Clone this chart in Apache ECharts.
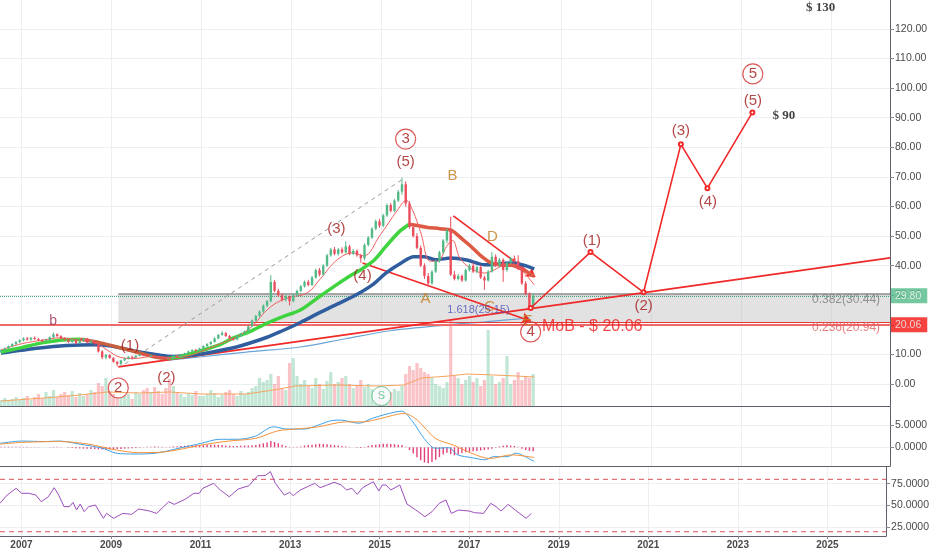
<!DOCTYPE html>
<html><head><meta charset="utf-8">
<script src="https://cdn.jsdelivr.net/npm/echarts@6/dist/echarts.min.js"></script>
<style>html,body{margin:0;padding:0;background:#fff}#c{width:932px;height:550px}</style>
</head><body><div id="c"></div>
<script>
// ---------- DATA ----------
const yearTicks = [2007, 2009, 2011, 2013, 2015, 2017, 2019, 2021, 2023, 2025];
const priceTicks = [0, 10, 20, 30, 40, 50, 60, 70, 80, 90, 100, 110, 120];
const macdTicks = [0, 5];
const rsiTicks = [25, 50, 75];

// monthly candles: date, open, high, low, close
const candles = [
['2006-07',11.0,11.8,10.6,11.5],['2006-08',11.5,12.3,11.1,12.0],['2006-09',12.0,13.0,11.7,12.8],['2006-10',12.8,13.8,12.4,13.5],['2006-11',13.5,14.5,13.1,14.2],['2006-12',14.2,15.1,13.8,14.8],
['2007-01',14.8,15.8,14.4,15.4],['2007-02',15.4,15.9,14.6,15.0],['2007-03',15.0,15.9,14.6,15.6],['2007-04',15.6,16.1,14.9,15.2],['2007-05',15.2,15.6,14.5,14.8],['2007-06',14.8,15.2,14.1,14.5],
['2007-07',14.5,15.3,14.2,14.9],['2007-08',14.9,16.1,14.4,15.8],['2007-09',15.8,17.4,15.5,16.8],['2007-10',16.8,17.1,15.9,16.2],['2007-11',16.2,16.5,15.0,15.4],['2007-12',15.4,15.8,14.6,15.0],
['2008-01',15.0,15.3,13.8,14.2],['2008-02',14.2,15.1,13.9,14.8],['2008-03',14.8,15.2,13.4,13.8],['2008-04',13.8,14.9,13.5,14.6],['2008-05',14.6,15.7,14.3,15.3],['2008-06',15.3,15.6,13.7,14.0],
['2008-07',14.0,14.9,13.5,14.5],['2008-08',14.5,14.8,13.2,13.6],['2008-09',13.6,14.0,10.6,11.0],['2008-10',11.0,11.4,8.4,9.0],['2008-11',9.0,10.2,8.3,9.8],['2008-12',9.8,10.1,8.5,8.8],
['2009-01',8.8,9.1,7.2,7.5],['2009-02',7.5,7.8,6.0,6.8],['2009-03',6.8,8.2,6.3,8.0],['2009-04',8.0,8.9,7.7,8.6],['2009-05',8.6,9.4,8.3,9.2],['2009-06',9.2,9.6,8.7,9.0],
['2009-07',9.0,9.8,8.8,9.6],['2009-08',9.6,10.2,9.3,9.9],['2009-09',9.9,10.3,9.4,9.7],['2009-10',9.7,10.0,9.1,9.4],['2009-11',9.4,9.9,9.1,9.6],['2009-12',9.6,9.9,9.0,9.3],
['2010-01',9.3,9.6,8.8,9.0],['2010-02',9.0,9.3,8.5,8.8],['2010-03',8.8,9.2,8.4,8.6],['2010-04',8.6,8.9,8.0,8.4],['2010-05',8.4,9.9,8.2,9.6],['2010-06',9.6,9.8,8.9,9.2],
['2010-07',9.2,10.2,9.0,10.0],['2010-08',10.0,10.6,9.7,10.4],['2010-09',10.4,11.3,10.1,11.0],['2010-10',11.0,11.8,10.8,11.5],['2010-11',11.5,11.9,10.9,11.2],['2010-12',11.2,12.3,11.0,12.0],
['2011-01',12.0,13.1,11.7,12.8],['2011-02',12.8,13.8,12.5,13.5],['2011-03',13.5,14.5,13.1,14.2],['2011-04',14.2,15.8,14.0,15.4],['2011-05',15.4,16.9,15.1,16.6],['2011-06',16.6,17.9,16.3,17.2],
['2011-07',17.2,17.6,15.9,16.2],['2011-08',16.2,16.6,15.0,15.4],['2011-09',15.4,15.8,14.6,15.0],['2011-10',15.0,16.5,14.8,16.2],['2011-11',16.2,17.3,15.9,17.0],['2011-12',17.0,18.1,16.7,17.8],
['2012-01',17.8,19.8,17.5,19.5],['2012-02',19.5,21.8,19.2,21.5],['2012-03',21.5,23.4,21.0,23.0],['2012-04',23.0,24.9,22.5,24.5],['2012-05',24.5,26.9,24.0,26.5],['2012-06',26.5,28.4,26.0,28.0],
['2012-07',28.0,36.8,27.6,34.5],['2012-08',34.5,35.2,31.0,31.5],['2012-09',31.5,32.2,29.4,30.0],['2012-10',30.0,30.6,27.9,28.5],['2012-11',28.5,30.1,27.8,29.5],['2012-12',29.5,29.9,26.6,28.0],
['2013-01',28.0,30.4,27.6,30.0],['2013-02',30.0,31.9,29.5,31.5],['2013-03',31.5,33.5,31.0,33.0],['2013-04',33.0,35.0,32.6,34.5],['2013-05',34.5,35.2,33.0,33.5],['2013-06',33.5,36.5,33.1,36.0],
['2013-07',36.0,39.0,35.6,38.5],['2013-08',38.5,39.2,36.4,37.0],['2013-09',37.0,40.5,36.7,40.0],['2013-10',40.0,44.0,39.6,43.5],['2013-11',43.5,46.0,43.0,45.5],['2013-12',45.5,46.3,43.5,44.0],
['2014-01',44.0,46.0,43.4,45.5],['2014-02',45.5,46.2,44.0,44.5],['2014-03',44.5,48.2,44.1,46.5],['2014-04',46.5,47.0,43.5,44.0],['2014-05',44.0,45.6,43.6,45.0],['2014-06',45.0,45.5,43.0,43.5],
['2014-07',43.5,44.0,41.0,42.5],['2014-08',42.5,47.5,41.8,47.0],['2014-09',47.0,50.0,46.5,49.5],['2014-10',49.5,53.0,49.0,52.5],['2014-11',52.5,55.6,52.0,55.0],['2014-12',55.0,55.8,52.8,53.5],
['2015-01',53.5,57.5,53.0,57.0],['2015-02',57.0,61.0,56.5,60.5],['2015-03',60.5,61.2,58.0,58.5],['2015-04',58.5,62.5,58.0,62.0],['2015-05',62.0,65.6,61.5,65.0],['2015-06',65.0,69.8,64.0,67.5],
['2015-07',67.5,68.5,60.0,61.0],['2015-08',61.0,61.8,52.5,53.0],['2015-09',53.0,54.0,49.5,50.0],['2015-10',50.0,51.0,45.5,46.0],['2015-11',46.0,46.8,39.5,40.0],['2015-12',40.0,40.8,35.5,36.5],
['2016-01',36.5,37.5,32.8,34.0],['2016-02',34.0,38.5,33.5,38.0],['2016-03',38.0,42.0,37.5,41.5],['2016-04',41.5,45.0,41.0,44.5],['2016-05',44.5,49.0,44.0,48.5],['2016-06',48.5,52.5,47.5,52.0],
['2016-07',52.0,56.5,36.5,37.0],['2016-08',37.0,38.2,35.0,35.5],['2016-09',35.5,37.2,35.0,36.5],['2016-10',36.5,37.0,34.5,35.0],['2016-11',35.0,39.0,34.6,38.5],['2016-12',38.5,40.6,38.0,40.0],
['2017-01',40.0,41.0,37.5,38.0],['2017-02',38.0,40.0,37.4,39.5],['2017-03',39.5,40.2,35.5,36.0],['2017-04',36.0,36.6,31.8,35.0],['2017-05',35.0,38.5,34.6,38.0],['2017-06',38.0,44.6,37.6,43.0],
['2017-07',43.0,43.8,39.5,40.0],['2017-08',40.0,42.6,39.4,42.0],['2017-09',42.0,42.5,34.5,38.5],['2017-10',38.5,41.5,38.0,41.0],['2017-11',41.0,43.0,40.5,42.5],['2017-12',42.5,43.4,41.0,41.5],
['2018-01',41.5,43.5,38.5,39.0],['2018-02',39.0,39.8,33.5,34.0],['2018-03',34.0,34.8,30.0,30.5],['2018-04',30.5,31.0,25.2,25.8],['2018-05',25.8,30.6,25.5,29.8]
];

const volume = [
6,8,5,7,9,6,
8,10,6,9,12,8,14,10,16,9,12,14,
11,15,9,13,10,12,16,14,23,20,28,15,
12,9,8,10,12,7,14,12,16,18,13,19,
15,12,18,27,20,14,12,9,13,11,15,10,
10,12,16,13,9,11,14,16,12,10,15,12,
14,18,20,28,24,26,32,22,30,18,16,43,
48,30,22,26,20,18,28,22,17,25,34,22,
24,28,30,22,18,20,26,19,22,17,15,20,
18,16,14,17,15,20,32,40,36,43,38,34,
32,28,22,20,18,24,86,30,28,22,26,30,
24,28,20,26,76,30,22,24,28,50,22,26,
34,26,30,28,32
];

const macdHist = [
0.1,0.1,0.15,0.15,0.1,0.1,
0.1,0.1,0.05,0.05,0.05,0,0,0.05,0.1,0.1,0.05,0,
-0.1,-0.15,-0.2,-0.25,-0.3,-0.3,-0.35,-0.4,-0.45,-0.5,-0.55,-0.5,
-0.45,-0.4,-0.35,-0.3,-0.25,-0.2,-0.15,-0.1,0.05,0.1,0.15,0.2,
0.15,0.1,0.05,0.1,0.2,0.25,0.3,0.35,0.4,0.4,0.45,0.5,
0.5,0.55,0.6,0.6,0.55,0.5,0.4,0.35,0.3,0.3,0.35,0.4,
0.4,0.45,0.5,0.7,0.9,1.1,1.4,1.2,0.9,0.6,0.3,0.1,
0.05,0.1,0.2,0.4,0.5,0.6,0.7,0.8,0.75,0.7,0.6,0.5,
0.4,0.3,0.2,0.1,0,-0.1,-0.15,0.1,0.3,0.5,0.6,0.7,
0.8,0.8,0.75,0.7,0.6,0.5,0.1,-0.6,-1.4,-2.2,-2.9,-3.4,
-3.6,-3.3,-2.8,-2.2,-1.6,-1.2,-1.5,-1.8,-1.6,-1.3,-1.1,-1.0,
-0.9,-0.8,-0.7,-0.6,-0.5,-0.3,-0.1,0.2,0.35,0.45,0.4,0.3,
0.1,-0.3,-0.6,-0.8,-0.9
];

const maFast = [[2006.54,11.5],[2007.0,13.6],[2007.5,14.9],[2007.85,15.6],[2008.3,14.8],[2008.6,14.4],[2008.9,11.5],[2009.2,9.0],[2009.5,8.6],[2009.9,9.3],[2010.3,8.9],[2010.7,9.6],[2011.0,11.0],[2011.4,13.5],[2011.7,15.3],[2012.08,18.9],[2012.53,26.0],[2012.9,29.0],[2013.35,30.8],[2013.64,35.5],[2014.02,42.0],[2014.38,44.3],[2014.6,43.3],[2014.98,50.5],[2015.36,58.8],[2015.55,62.0],[2015.7,58.5],[2015.87,51.5],[2016.09,41.5],[2016.25,41.5],[2016.45,46.5],[2016.58,48.5],[2016.75,42.5],[2017.0,39.0],[2017.3,37.5],[2017.5,38.5],[2017.7,40.0],[2017.95,40.5],[2018.15,38.0],[2018.4,33.5]];

const maMid = [[2006.54,10.8],[2007.0,12.3],[2007.45,13.9],[2007.9,14.9],[2008.3,15.1],[2008.75,13.9],[2009.2,12.2],[2009.65,10.4],[2010.0,9.0],[2010.25,8.6],[2010.55,9.3],[2011.0,11.3],[2011.4,13.2],[2011.7,15.5],[2012.05,17.5],[2012.45,20.5],[2012.85,23.0],[2013.2,25.0],[2013.6,29.3],[2013.95,33.0],[2014.3,36.5],[2014.55,38.7],[2014.85,42.0],[2015.1,46.5],[2015.4,51.5],[2015.62,54.0],[2015.8,53.6],[2016.0,53.0],[2016.3,52.5],[2016.55,52.0],[2016.8,49.0],[2017.0,46.4],[2017.2,43.5],[2017.43,41.0],[2017.65,40.2],[2017.9,40.1],[2018.1,39.0],[2018.25,37.8],[2018.4,36.3]];
const maMidTurns = [2008.3, 2010.25, 2015.62];

const maSlow = [[2006.54,10.5],[2007.4,12.2],[2008.0,13.0],[2008.6,13.3],[2009.0,12.8],[2009.5,11.2],[2010.05,9.8],[2010.35,9.3],[2010.8,9.8],[2011.3,11.0],[2011.8,12.6],[2012.46,15.8],[2012.8,18.0],[2013.2,20.8],[2013.65,24.3],[2013.95,26.5],[2014.4,29.8],[2014.8,33.5],[2015.1,37.5],[2015.45,41.0],[2015.72,43.0],[2015.95,43.0],[2016.2,42.0],[2016.55,42.6],[2016.9,41.9],[2017.3,40.3],[2017.9,40.9],[2018.2,40.0],[2018.4,38.9]];

const maLong = [[2010.2,8.0],[2011.0,9.2],[2012.0,10.8],[2013.2,12.5],[2014.2,15.3],[2015.2,18.0],[2016.5,20.0],[2017.3,21.0],[2018.3,22.3]];

const volMA = [[2006.54,5],[2007.5,8],[2008.3,11],[2008.9,14],[2009.6,13],[2010.3,14],[2011.0,12],[2012.0,12],[2012.6,16],[2013.1,20],[2014.0,21],[2014.9,20],[2015.5,21],[2015.9,28],[2016.5,30],[2016.9,32],[2017.5,31],[2018.0,30],[2018.4,29]];

const macdLine = [[2006.52,0.9],[2007.0,1.4],[2007.5,1.3],[2007.85,1.4],[2008.3,0.7],[2008.8,-0.2],[2009.1,-1.3],[2009.5,-1.5],[2010.0,-1.3],[2010.5,-0.2],[2011.0,0.9],[2011.4,1.8],[2011.8,1.8],[2012.2,2.5],[2012.6,4.6],[2012.9,4.1],[2013.3,4.1],[2013.6,5.0],[2013.9,6.0],[2014.1,6.1],[2014.5,5.4],[2014.8,6.5],[2015.1,7.4],[2015.45,8.1],[2015.7,5.7],[2015.95,2.0],[2016.2,-0.2],[2016.5,-0.1],[2016.7,-1.7],[2017.0,-2.3],[2017.3,-2.8],[2017.5,-2.1],[2017.8,-2.1],[2018.0,-1.3],[2018.2,-2.1],[2018.4,-3.2]];
const signalLine = [[2006.52,0.7],[2007.0,1.1],[2007.85,1.3],[2008.5,0.7],[2009.1,-0.6],[2009.6,-1.2],[2010.2,-1.0],[2011.0,0.5],[2011.6,1.4],[2012.2,2.0],[2012.7,3.7],[2013.1,4.1],[2013.6,4.6],[2014.2,5.7],[2014.6,5.7],[2015.0,6.5],[2015.5,7.6],[2015.8,6.1],[2016.2,2.0],[2016.6,0.5],[2017.0,-1.3],[2017.4,-2.5],[2017.9,-1.7],[2018.4,-2.3]];

const rsiLine = [[2006.52,52.5],[2006.68,62],[2006.88,69.7],[2007.0,64],[2007.16,64],[2007.32,62],[2007.44,54.4],[2007.6,60],[2007.73,70.4],[2007.83,62],[2007.95,48.7],[2008.07,48.7],[2008.15,53.6],[2008.23,44.8],[2008.31,51.7],[2008.4,43],[2008.5,48.7],[2008.65,50.6],[2008.83,35.3],[2008.9,41],[2009.06,35.3],[2009.26,41],[2009.46,39.9],[2009.62,46],[2009.86,43.7],[2010.02,41],[2010.29,54.4],[2010.41,51.3],[2010.65,57],[2010.85,64],[2010.97,64],[2011.05,69.7],[2011.29,75.4],[2011.44,67.8],[2011.64,60],[2011.84,68.9],[2012.08,72.7],[2012.28,84.2],[2012.44,84.2],[2012.56,88.8],[2012.67,75.4],[2012.87,62],[2012.99,65.1],[2013.07,61.3],[2013.23,67.8],[2013.39,71.6],[2013.55,75.4],[2013.67,70.4],[2013.83,73.5],[2013.98,76.6],[2014.14,73.5],[2014.26,67.8],[2014.38,69.7],[2014.5,62.8],[2014.62,70.4],[2014.86,77.3],[2014.9,78],[2014.98,66.6],[2015.06,73.5],[2015.14,73.5],[2015.25,67.8],[2015.45,73.5],[2015.61,51.7],[2015.81,44.8],[2016.01,37.2],[2016.17,43],[2016.33,52.5],[2016.48,56.3],[2016.6,41],[2016.76,44.8],[2017.0,43.7],[2017.12,41.8],[2017.32,41],[2017.48,52.5],[2017.6,48.7],[2017.71,43.7],[2017.87,51.3],[2018.03,44.8],[2018.27,35.3],[2018.39,41]];
const rsiBands = [80, 20];

const projection = [[2018.32,25.7],[2019.65,44.6],[2020.83,31.0],[2021.66,81.0],[2022.25,66.2],[2023.25,91.8]];
const trendLine = [[2009.15,5.8],[2026.31,42.6]];
const dashedLine = [[2009.3,6.8],[2015.5,69.5]];
const waveFourToE = [[2014.58,40.9],[2018.32,21.3]];
const lineBtoD = [[2016.6,56.8],[2018.42,36.2]];
const fibBox = {start: 2009.15, top: 30.44, bottom: 20.94};
const mobLevel = 20.06;
const lastPrice = 29.80;

const parenLabels = [['(1)',2009.41,12.8],['(2)',2010.22,2.0],['(3)',2014.0,52.4],['(4)',2014.58,36.5],['(5)',2015.54,75.0],['(1)',2019.68,48.3],['(2)',2020.83,26.4],['(3)',2021.66,85.5],['(4)',2022.26,61.5],['(5)',2023.26,95.7]];
const circledLabels = [['2',2009.15,-1.35],['3',2015.54,82.8],['4',2018.32,17.6],['5',2023.26,104.8]];
const letterLabels = [['A',2015.98,28.7],['B',2016.58,70.3],['C',2017.41,26.0],['D',2017.47,49.7],['E',2018.25,21.3]];
const smallB = ['b',2007.70,21.3];
const targetLabels = [['$ 90',2023.95,90.6],['$ 130',2024.77,127.1]];
const fibLabels = [['0.382(30.44)',2026.1,28.4,'#7a7a7a'],['0.236(20.94)',2026.1,19.0,'#e25c5c']];

// ---------- CHART ----------
const xMin = 2006.52, xMax = 2026.31;
const FONT = 'Arial, "Liberation Sans", sans-serif';
const GREEN = '#53b987', RED = '#eb4d5c';
const toYear = d => { const p = d.split('-').map(Number); return p[0] + (p[1] - 0.5) / 12; };
const candleData = candles.map(r => [toYear(r[0]), r[1], r[2], r[3], r[4]]);
const volData = candles.map((r, i) => ({ value: [toYear(r[0]), volume[i]], itemStyle: { color: r[4] >= r[1] ? 'rgba(83,185,135,0.36)' : 'rgba(240,90,100,0.36)' } }));
const histData = candles.map((r, i) => [toYear(r[0]), macdHist[i]]);

const seg = (a, b) => maMid.filter(p => p[0] >= a && p[0] <= b);

const xAxisFor = (gi, show) => ({
  type: 'value', gridIndex: gi, min: xMin, max: xMax,
  axisLine: { show: true, onZero: false, lineStyle: { color: '#5d606b', width: 1 } },
  axisTick: { show: show, customValues: yearTicks, length: 3, lineStyle: { color: '#888' } },
  axisLabel: { show: show, customValues: yearTicks, formatter: v => String(v), color: '#4a4a4a', fontSize: 10, fontWeight: 'bold', margin: 4, fontFamily: FONT },
  splitLine: { show: true, lineStyle: { color: '#eceff2', width: 1 } }
});
const yAxisFor = (gi, min, max, ticks, dec) => ({
  type: 'value', gridIndex: gi, position: 'right', min: min, max: max,
  axisLine: { show: true, lineStyle: { color: '#5d606b' } },
  axisTick: { show: true, customValues: ticks, length: 4, lineStyle: { color: '#888' } },
  axisLabel: { customValues: ticks, formatter: v => v.toFixed(dec), color: '#4a4a4a', fontSize: 10.5, margin: 5, fontFamily: FONT },
  splitLine: { show: true, lineStyle: { color: '#eceff2' } }
});

const textSeries = (items, style) => ({
  type: 'scatter', xAxisIndex: 0, yAxisIndex: 0, z: 20, silent: true, animation: false,
  symbol: 'circle', symbolSize: 1, itemStyle: { color: 'rgba(0,0,0,0)' },
  data: items.map(t => ({ value: [t[1], t[2]], name: t[0], label: t[3] ? { color: t[3] } : undefined })),
  label: Object.assign({ show: true, position: 'inside', formatter: p => p.name, fontFamily: FONT }, style)
});

const chart = echarts.init(document.getElementById('c'), null, { renderer: 'canvas' });
chart.setOption({
  backgroundColor: '#ffffff',
  animation: false,
  grid: [
    { left: 0, right: 42, top: 0, height: 406 },
    { left: 0, right: 42, top: 407, height: 59 },
    { left: 0, right: 42, top: 467, height: 69 }
  ],
  xAxis: [xAxisFor(0, false), xAxisFor(1, false), xAxisFor(2, true)],
  yAxis: [
    yAxisFor(0, -7.44, 129.8, priceTicks, 2),
    { type: 'value', gridIndex: 0, min: 0, max: 406, show: false },
    yAxisFor(1, -4.19, 9.04, macdTicks, 4),
    yAxisFor(2, 15.1, 94.1, rsiTicks, 4)
  ],
  series: [
    // fib box + horizontal levels
    {
      type: 'line', xAxisIndex: 0, yAxisIndex: 0, data: [], z: 1, silent: true,
      markArea: { silent: true, itemStyle: { color: 'rgba(165,165,165,0.32)' },
        data: [[{ coord: [fibBox.start, fibBox.top] }, { coord: [xMax, fibBox.bottom] }]] },
      markLine: { silent: true, symbol: ['none', 'none'], label: { show: false }, animation: false,
        data: [
          [{ coord: [fibBox.start, fibBox.top], lineStyle: { color: '#8c8c8c', width: 1.5, type: 'solid' } }, { coord: [xMax, fibBox.top] }],
          [{ coord: [fibBox.start, fibBox.bottom], lineStyle: { color: '#e53935', width: 1, type: 'solid' } }, { coord: [xMax, fibBox.bottom] }],
          { yAxis: mobLevel, lineStyle: { color: '#f06a6a', width: 2, type: 'solid' } },
          { yAxis: lastPrice, lineStyle: { color: '#3fa57a', width: 1, type: 'dotted' } }
        ] }
    },
    // volume
    { type: 'bar', xAxisIndex: 0, yAxisIndex: 1, data: volData, barWidth: 3.2, z: 2, silent: true },
    { type: 'line', xAxisIndex: 0, yAxisIndex: 1, data: volMA, showSymbol: false, z: 3, lineStyle: { color: '#f5a35c', width: 1 }, silent: true },
    // long thin MA
    { type: 'line', xAxisIndex: 0, yAxisIndex: 0, data: maLong, showSymbol: false, smooth: 0.3, z: 4, lineStyle: { color: '#6aa5d8', width: 1.2 }, silent: true },
    // trend lines
    {
      type: 'line', xAxisIndex: 0, yAxisIndex: 0, data: [], z: 6, silent: true,
      markLine: { silent: true, label: { show: false }, animation: false, symbolSize: 9,
        data: [
          [{ coord: trendLine[0], symbol: 'none', lineStyle: { color: '#f02929', width: 1.8, type: 'solid' } }, { coord: trendLine[1], symbol: 'none' }],
          [{ coord: dashedLine[0], symbol: 'none', lineStyle: { color: '#9a9a9a', width: 1, type: [4, 4] } }, { coord: dashedLine[1], symbol: 'none' }],
          [{ coord: waveFourToE[0], symbol: 'none', lineStyle: { color: '#f02929', width: 1.8, type: 'solid' } }, { coord: waveFourToE[1], symbol: 'arrow', symbolSize: 9 }],
          [{ coord: lineBtoD[0], symbol: 'none', lineStyle: { color: '#f02929', width: 1.6, type: 'solid' } }, { coord: lineBtoD[1], symbol: 'arrow', symbolSize: 9 }]
        ] }
    },
    // MAs
    { type: 'line', xAxisIndex: 0, yAxisIndex: 0, data: maSlow, showSymbol: false, smooth: 0.3, z: 7, lineStyle: { color: '#2f5d9e', width: 3.5 }, silent: true },
    { type: 'line', xAxisIndex: 0, yAxisIndex: 0, data: seg(xMin, maMidTurns[0]), showSymbol: false, smooth: 0.3, z: 8, lineStyle: { color: '#3fd43f', width: 3.5 }, silent: true },
    { type: 'line', xAxisIndex: 0, yAxisIndex: 0, data: seg(maMidTurns[0], maMidTurns[1]), showSymbol: false, smooth: 0.3, z: 8, lineStyle: { color: '#c8603e', width: 3.5 }, silent: true },
    { type: 'line', xAxisIndex: 0, yAxisIndex: 0, data: seg(maMidTurns[1], maMidTurns[2]), showSymbol: false, smooth: 0.3, z: 8, lineStyle: { color: '#3fd43f', width: 3.5 }, silent: true },
    { type: 'line', xAxisIndex: 0, yAxisIndex: 0, data: seg(maMidTurns[2], xMax), showSymbol: false, smooth: 0.3, z: 8, lineStyle: { color: '#dd5a45', width: 3.5 }, silent: true },
    { type: 'line', xAxisIndex: 0, yAxisIndex: 0, data: maFast, showSymbol: false, smooth: 0.4, z: 9, lineStyle: { color: '#f25f5f', width: 1 }, silent: true },
    // candles
    {
      type: 'custom', xAxisIndex: 0, yAxisIndex: 0, data: candleData, z: 10, silent: true,
      encode: { x: 0, y: [1, 2, 3, 4] },
      renderItem: (params, api) => {
        const x = api.value(0), o = api.value(1), h = api.value(2), l = api.value(3), c = api.value(4);
        const pO = api.coord([x, o]), pC = api.coord([x, c]), pH = api.coord([x, h]), pL = api.coord([x, l]);
        const col = c >= o ? GREEN : RED;
        const w = 2.4;
        return { type: 'group', children: [
          { type: 'line', shape: { x1: pH[0], y1: pH[1], x2: pL[0], y2: pL[1] }, style: { stroke: col, lineWidth: 1 } },
          { type: 'rect', shape: { x: pO[0] - w / 2, y: Math.min(pO[1], pC[1]), width: w, height: Math.max(1, Math.abs(pO[1] - pC[1])) }, style: { fill: col } }
        ] };
      }
    },
    // projection path
    { type: 'line', xAxisIndex: 0, yAxisIndex: 0, data: projection, z: 11, symbol: 'emptyCircle', symbolSize: 4, lineStyle: { color: '#f02929', width: 1.6 }, itemStyle: { color: '#f02929' }, silent: true },
    // labels
    textSeries(parenLabels, { color: '#a31818', fontSize: 15 }),
    textSeries(letterLabels, { color: '#c27c1e', fontSize: 15 }),
    textSeries([smallB], { color: '#9c2a4a', fontSize: 14 }),
    textSeries(targetLabels, { color: '#111', fontSize: 13, fontWeight: 'bold', fontFamily: '"Liberation Serif", "DejaVu Serif", serif' }),
    {
      type: 'scatter', xAxisIndex: 0, yAxisIndex: 0, z: 21, silent: true,
      symbol: 'circle', symbolSize: 20,
      itemStyle: { color: 'rgba(255,255,255,0)', borderColor: '#d32f2f', borderWidth: 1.2 },
      data: circledLabels.map(t => ({ value: [t[1], t[2]], name: t[0] })),
      label: { show: true, position: 'inside', formatter: p => p.name, color: '#a31818', fontSize: 15, fontFamily: FONT }
    },
    textSeries([['MoB - $ 20.06', 2018.56, 19.3]], { position: 'right', distance: 0, color: '#ee1c1c', fontSize: 16 }),
    textSeries([['1.618(25.15)', 2017.16, 25.0]], { color: '#4b4fb5', fontSize: 11 }),
    textSeries(fibLabels, { position: 'left', distance: 0, fontSize: 12 }),
    // S badge
    {
      type: 'scatter', xAxisIndex: 0, yAxisIndex: 0, z: 21, silent: true, symbol: 'circle', symbolSize: 19,
      itemStyle: { color: '#ffffff', borderColor: '#53b987', borderWidth: 1 },
      data: [{ value: [2015.0, -4.06], name: 'S' }],
      label: { show: true, position: 'inside', formatter: 'S', color: '#53b987', fontSize: 11, fontFamily: FONT }
    },
    // price tags on axis
    {
      type: 'scatter', xAxisIndex: 0, yAxisIndex: 0, z: 30, silent: true, symbolSize: 0,
      data: [
        { value: [xMax, lastPrice], name: '29.80', label: { backgroundColor: '#53b987' } },
        { value: [xMax, mobLevel], name: '20.06', label: { backgroundColor: '#f2140f' } }
      ],
      label: { show: true, position: 'right', distance: 1, formatter: p => p.name, color: '#fff', fontSize: 10.5, padding: [2, 6, 2, 4], fontFamily: FONT }
    },
    // MACD
    { type: 'bar', xAxisIndex: 1, yAxisIndex: 2, data: histData, barWidth: 1.4, itemStyle: { color: '#e0407a' }, silent: true },
    { type: 'line', xAxisIndex: 1, yAxisIndex: 2, data: macdLine, showSymbol: false, smooth: 0.3, lineStyle: { color: '#3ea0e6', width: 1 }, silent: true },
    { type: 'line', xAxisIndex: 1, yAxisIndex: 2, data: signalLine, showSymbol: false, smooth: 0.3, lineStyle: { color: '#f7913a', width: 1 }, silent: true },
    // RSI bands
    ...rsiBands.map(v => ({
      type: 'line', xAxisIndex: 2, yAxisIndex: 3, data: [[xMin, v], [xMax, v]], showSymbol: false, silent: true, z: 1,
      lineStyle: { color: '#e0505a', type: [5, 4], width: 1 }
    })),
    // RSI
    { type: 'line', xAxisIndex: 2, yAxisIndex: 3, data: rsiLine, showSymbol: false, z: 3, lineStyle: { color: '#9c4dba', width: 1 }, silent: true }
  ]
});
</script>
</body></html>
